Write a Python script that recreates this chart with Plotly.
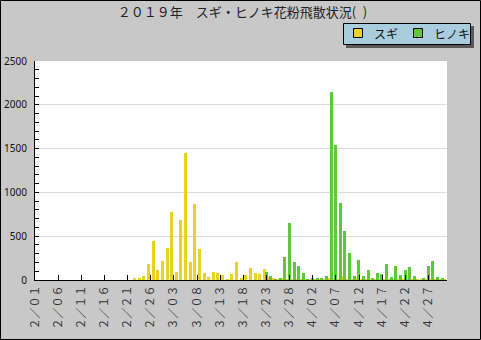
import plotly.graph_objects as go

# ---- data ----
n_days = 89  # 2/01 .. 4/30
sugi = [0]*21 + [25, 25, 46, 182, 445, 114, 217, 365, 775, 91,
                 684, 1448, 205, 867, 353, 80, 34, 91, 80, 57,
                 11, 68, 205, 23, 57, 137, 80, 68, 125, 34,
                 20, 10, 20, 10, 10, 5, 5, 5, 5, 5,
                 5, 5, 20, 20, 10, 46, 10, 5, 23, 5,
                 5, 5, 5, 5, 5, 5, 5, 5, 5, 20,
                 5, 5, 5, 5, 5, 5, 5, 5]
hinoki = [0]*49 + [91, 46, 11, 23, 262, 650, 205, 160, 80, 11,
                   23, 23, 23, 46, 2150, 1540, 878, 559, 308, 46,
                   228, 46, 114, 23, 80, 68, 182, 34, 160, 57,
                   114, 148, 46, 0, 23, 160, 217, 34, 23, 0]
tick_idx = list(range(0, 89, 5))
tick_text = ["２／０１", "２／０６", "２／１１", "２／１６", "２／２１", "２／２６",
             "３／０３", "３／０８", "３／１３", "３／１８", "３／２３", "３／２８",
             "４／０２", "４／０７", "４／１２", "４／１７", "４／２２", "４／２７"]
days = list(range(n_days))
title_text = "２０１９年　スギ・ヒノキ花粉飛散状況(\u2002)"
legend_names = ["スギ", "ヒノキ"]

# ---- styles ----
W, H = 481, 340
L, R, T, B = 35, 34, 61, 60
pw, ph = W - L - R, H - T - B
YEL = "#e9d126"
GRN = "#5cc93a"
CJK = "Noto Sans CJK JP"


def px(x):
    return (x - L) / pw


def py(y):
    return (H - B - y) / ph


fig = go.Figure()
fig.add_trace(go.Bar(x=days, y=sugi, name=legend_names[0], marker=dict(color=YEL, line=dict(width=0)),
                     offset=0.2, width=0.65, showlegend=False))
fig.add_trace(go.Bar(x=days, y=hinoki, name=legend_names[1], marker=dict(color=GRN, line=dict(width=0)),
                     offset=0.63, width=0.65, showlegend=False))

shapes = [
    # outer border
    dict(type="rect", xref="paper", yref="paper", x0=px(0.5), x1=px(480.5), y0=py(339.5), y1=py(0.5),
         line=dict(color="black", width=1), layer="above"),
    # legend shadow
    dict(type="rect", xref="paper", yref="paper", x0=px(346), x1=px(474), y0=py(48), y1=py(26),
         fillcolor="#5a5a5a", line=dict(width=0), layer="above"),
    # legend box
    dict(type="rect", xref="paper", yref="paper", x0=px(343.5), x1=px(470.5), y0=py(44.5), y1=py(23.5),
         fillcolor="#a9cddc", line=dict(color="black", width=1), layer="above"),
    dict(type="rect", xref="paper", yref="paper", x0=px(353.5), x1=px(362.5), y0=py(37.5), y1=py(28.5),
         fillcolor=YEL, line=dict(color="black", width=1), layer="above"),
    dict(type="rect", xref="paper", yref="paper", x0=px(413.5), x1=px(422.5), y0=py(37.5), y1=py(28.5),
         fillcolor=GRN, line=dict(color="black", width=1), layer="above"),
]
annotations = [
    dict(text=legend_names[0], xref="paper", yref="paper", x=px(372), y=py(33), xanchor="left",
         yanchor="middle", showarrow=False, font=dict(family=CJK, size=12, color="#111")),
    dict(text=legend_names[1], xref="paper", yref="paper", x=px(432), y=py(33), xanchor="left",
         yanchor="middle", showarrow=False, font=dict(family=CJK, size=12, color="#111")),
]

fig.update_layout(
    width=W, height=H,
    margin=dict(l=L, r=R, t=T, b=B, pad=0),
    paper_bgcolor="#c8c8c8", plot_bgcolor="white",
    barmode="overlay", bargap=0,
    template="none",
    title=dict(text=title_text, xref="container", yref="container", x=242.5 / W, y=1 - 12.5 / H,
               xanchor="center", yanchor="middle", font=dict(family=CJK, size=13, color="#222")),
    shapes=shapes, annotations=annotations,
    showlegend=False,
)
fig.update_xaxes(range=[0, n_days], tickmode="array", tickvals=tick_idx, ticktext=tick_text,
                 tickangle=-90, ticks="inside", ticklen=5, tickcolor="black", tickwidth=1,
                 showline=True, linecolor="black", linewidth=1, showgrid=False, zeroline=False,
                 automargin=False, tickfont=dict(family=CJK, size=11, color="#333"))
fig.update_yaxes(range=[0, 2500], dtick=500, tick0=0, ticks="inside", ticklen=4, tickcolor="black",
                 tickwidth=1, showline=True, linecolor="black", linewidth=1,
                 showgrid=True, gridcolor="#dcdcdc", gridwidth=1, zeroline=False, automargin=False,
                 minor=dict(dtick=100, ticks="inside", ticklen=4, tickcolor="black", showgrid=False),
                 ticklabelstandoff=5,
                 tickfont=dict(family="Noto Sans", size=10, color="#111"))

fig.write_html("out.html")
